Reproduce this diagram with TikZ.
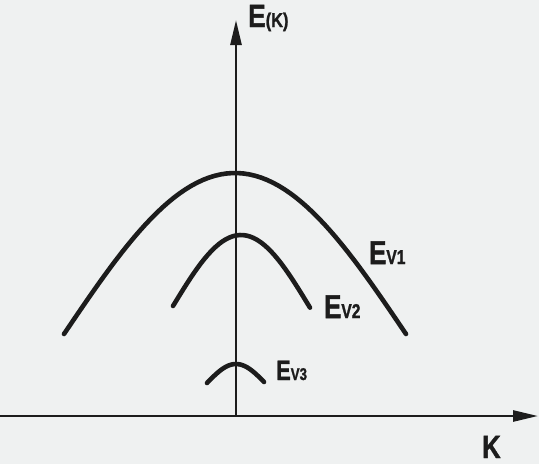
\documentclass[tikz,border=0pt]{standalone}
\usepackage{fontspec}
\setmainfont{Liberation Sans}
\newfontfamily\heavy{Liberation Sans}[UprightFont=* Bold, FakeBold=1.5]
\usepackage{graphicx}
\usetikzlibrary{arrows.meta}
\definecolor{paper}{RGB}{239,241,241}
\definecolor{ink}{RGB}{28,28,28}
\tikzset{
  axis/.style={draw=ink, line width=2.6pt, -{Triangle[length=25pt,width=11pt]}},
  band/.style={draw=ink, line width=4.6pt, line cap=round},
  lbl/.style={anchor=base west, inner sep=0pt, text=ink, font=\heavy}
}
\newcommand{\evlabel}[3]{\scalebox{0.78}[1]{\fontsize{#1}{#1}\selectfont E\fontsize{#2}{#2}\selectfont #3}}
\begin{document}
\begin{tikzpicture}[x=1pt,y=-1pt]
\fill[paper] (0,0) rectangle (539,464);
\useasboundingbox (0,0) rectangle (539,464);
\coordinate (o) at (236,416);
\coordinate (ytip) at (236,20);
\coordinate (xstart) at (0,416);
\coordinate (xtip) at (538,416);
\draw[axis] (o) -- (ytip);
\draw[axis] (xstart) -- (xtip);
% bands
\draw[band] plot[domain=-171:171, samples=60] ({235+\x},{173+161*(1-cos(90*\x/171))});
\draw[band] plot[domain=-68:69, samples=40] ({241+\x},{235+71*(1-cos(90*\x/68))});
\draw[band] plot[domain=-29:28, samples=25] ({236+\x},{364+19*(1-cos(90*\x/29))});
% labels
\node[lbl] (ek) at (248,27) {\scalebox{0.82}[1]{\fontsize{32}{32}\selectfont E\fontsize{20}{20}\selectfont(K)}};
\node[lbl] (ev1) at (369,264) {\evlabel{33}{20}{V1}};
\node[lbl] (ev2) at (324,318) {\evlabel{33}{20}{V2}};
\node[lbl] (ev3) at (276,380) {\evlabel{28}{17}{V3}};
\node[lbl] (k) at (482,458) {\scalebox{0.8}[1]{\fontsize{32}{32}\selectfont K}};
\end{tikzpicture}
\end{document}
